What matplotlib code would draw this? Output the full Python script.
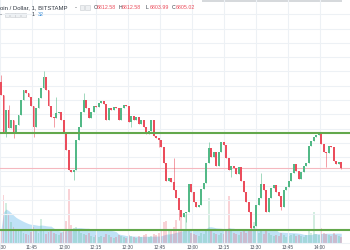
import numpy as np
import pandas as pd
import matplotlib
matplotlib.use("Agg")
import matplotlib.pyplot as plt
from matplotlib.patches import Rectangle

GREEN = "#53b987"
RED = "#eb4d5c"
LEVEL = "#63a84c"
FONT = ["Liberation Sans", "DejaVu Sans"]

# BTC/USD 1 min, Bitstamp -- closes, open = previous close
first_open = 6925.2
closes = [
    6907.0, 6853.8, 6886.0, 6860.8, 6872.0, 6855.2, 6865.0, 6879.0, 6900.0, 6914.0,
    6909.8, 6904.2, 6891.6, 6862.2, 6888.8, 6902.8, 6916.8, 6932.2, 6914.0, 6891.6,
    6876.2, 6874.8, 6881.8, 6883.2, 6872.0, 6855.2, 6830.0, 6802.0, 6799.2, 6802.0,
    6844.0, 6862.2, 6883.2, 6900.0, 6888.8, 6874.8, 6883.2, 6891.6, 6890.2, 6895.8,
    6898.6, 6894.4, 6872.0, 6888.8, 6886.0, 6890.2, 6888.8, 6872.0, 6888.8, 6893.0,
    6891.6, 6869.2, 6877.6, 6872.0, 6876.2, 6866.4, 6872.0, 6862.2, 6852.4, 6856.6,
    6872.0, 6849.6, 6846.8, 6844.0, 6834.2, 6811.8, 6786.6, 6790.8, 6785.2, 6774.0,
    6762.8, 6746.0, 6736.2, 6741.8, 6743.2, 6782.4, 6771.2, 6757.2, 6750.2, 6753.0,
    6775.4, 6783.8, 6811.8, 6832.8, 6820.2, 6827.2, 6807.6, 6827.2, 6841.2, 6837.0,
    6818.8, 6802.0, 6807.6, 6804.8, 6796.4, 6806.2, 6786.6, 6771.2, 6757.2, 6743.2,
    6720.8, 6723.6, 6753.0, 6762.8, 6782.4, 6774.0, 6743.2, 6762.8, 6776.8, 6781.0,
    6771.2, 6765.6, 6750.2, 6774.0, 6778.2, 6786.6, 6797.8, 6810.4, 6800.6, 6789.4,
    6799.2, 6807.6, 6811.8, 6835.6, 6842.6, 6848.2, 6851.0, 6852.4, 6838.4, 6827.2,
    6825.8, 6835.6, 6834.2, 6814.6, 6810.4, 6812.58, 6805.02,
]
# wicks that stick out past the body
wick_hi = {0: 6935.0, 3: 6893.0, 17: 6940.6, 22: 6904.2, 33: 6909.8,
           69: 6818.8, 83: 6841.2, 104: 6797.8}
wick_lo = {2: 6848.2, 5: 6846.8, 13: 6848.2, 21: 6862.2, 29: 6788.0, 52: 6862.2,
           63: 6834.2, 71: 6732.0, 74: 6729.2, 92: 6792.2, 100: 6718.0,
           112: 6746.0, 130: 6806.2, 136: 6803.99}
volume = [
    14, 48, 40, 28, 21, 16, 12, 14, 12, 10,
    9, 8, 11, 16, 12, 10, 24, 14, 9, 11,
    12, 10, 9, 8, 10, 14, 22, 54, 18, 15,
    16, 12, 10, 9, 8, 10, 7, 6, 8, 6,
    7, 6, 9, 8, 6, 5, 6, 8, 7, 6,
    5, 8, 7, 6, 5, 7, 6, 8, 9, 6,
    7, 9, 8, 10, 12, 21, 22, 12, 14, 16,
    23, 14, 26, 12, 28, 14, 10, 9, 8, 7,
    10, 9, 12, 45, 14, 10, 9, 8, 10, 9,
    12, 47, 14, 10, 9, 8, 11, 12, 10, 13,
    16, 21, 12, 10, 14, 9, 12, 10, 8, 7,
    8, 7, 10, 8, 6, 7, 8, 9, 7, 8,
    7, 6, 8, 12, 10, 31, 9, 8, 15, 10,
    9, 8, 7, 10, 8, 7, 6,
]
levels = [6853.5, 6718.0]
time_labels = ["11:30", "11:45", "12:00", "12:15", "12:30", "12:45",
               "13:00", "13:15", "13:30", "13:45", "14:00"]
header_ohlc = [("O", "6812.58"), ("H", "6812.58"), ("L", "6803.99"), ("C", "6805.02")]

n = len(closes)
t = np.linspace(0.5, 160, n)  # minutes after 11:30
c = np.array(closes)
o = np.r_[first_open, c[:-1]]
hi = np.maximum(o, c)
lo = np.minimum(o, c)
for k, v in wick_hi.items():
    hi[k] = v
for k, v in wick_lo.items():
    lo[k] = v
up = c >= o
cols = np.where(up, GREEN, RED)
body = c - o
body = np.where(np.abs(body) < 1.4, np.where(up, 1.4, -1.4), body)

fig = plt.figure(figsize=(3.5, 2.5), dpi=100)
fig.patch.set_facecolor("white")
ax = fig.add_axes([0, 0, 1, 1])
ax2 = ax.twinx()
ax.set_zorder(ax2.get_zorder() + 1)
ax.patch.set_visible(False)

# volume pane (bottom)
ma = pd.Series(volume).rolling(20, min_periods=1).mean()
ax2.fill_between(t, 0, ma, color="#b9dff6", alpha=0.9, lw=0)
ax2.bar(t, volume, width=0.85, color=cols, alpha=0.25, lw=0)
ax2.set_ylim(-7, 243)
ax2.set_yticks([])
for s in ax2.spines.values():
    s.set_visible(False)

# candles
ax.vlines(t, lo, hi, color=cols, lw=0.7, alpha=0.55, zorder=3)
ax.bar(t, body, bottom=o, width=0.85, color=cols, lw=0, zorder=4)

ax.axhline(c[-1], color="#f5b8bf", lw=0.8, zorder=2)
for lv in levels:
    ax.axhline(lv, color=LEVEL, lw=1.5, zorder=5)

ax.set_xlim(0, 164.1)
ax.set_ylim(6690, 7040)
ax.set_xticks(np.arange(0, 151, 15))
ax.set_xticklabels(time_labels, family=FONT)
ax.set_yticks(np.arange(6700, 7040, 20))
ax.grid(color="#edf1f5", lw=0.8)
ax.set_axisbelow(True)
ax.tick_params(axis="y", left=False, labelleft=False)
ax.tick_params(axis="x", length=0, direction="in", pad=-3.6,
               labelsize=3.4, labelcolor="#4c525e")
for s in ax.spines.values():
    s.set_visible(False)

# header
W, H = 350.0, 250.0
def ftext(x, y, s, size=3.8, color="#333a44"):
    fig.text(x / W, 1 - y / H, s, va="center", ha="left", fontsize=size,
             color=color, family=FONT)

def box(x, y, w=4.5, h=4.5):
    fig.add_artist(Rectangle((x / W, 1 - (y + h / 2) / H), w / W, h / H,
                             transform=fig.transFigure, fc="#eef0f2",
                             ec="#c9cdd2", lw=0.4))

ftext(0, 7.5, "oin / Dollar, 1, BITSTAMP", size=4.3)
ftext(74.5, 7.5, "-", size=4.3)
box(79.5, 7.5)
box(85, 7.5)
xs = [93.5, 118.5, 146, 172]
for (lab, val), x in zip(header_ohlc, xs):
    ftext(x, 7.5, lab)
    ftext(x + 3.4, 7.5, val, color=RED)

ftext(0, 15, "-", size=4.3)
for x in [4.5, 10, 15.5, 21]:
    box(x, 15)
ftext(31.5, 15, "1")
ftext(37.5, 15, "32", color="#3d8fd9")

fig.add_artist(Rectangle((202 / W, 1 - 1.5 / H), 140 / W, 1.5 / H,
                         transform=fig.transFigure, fc="#d6d9dc", lw=0))

fig.savefig("out.png", dpi=100)
